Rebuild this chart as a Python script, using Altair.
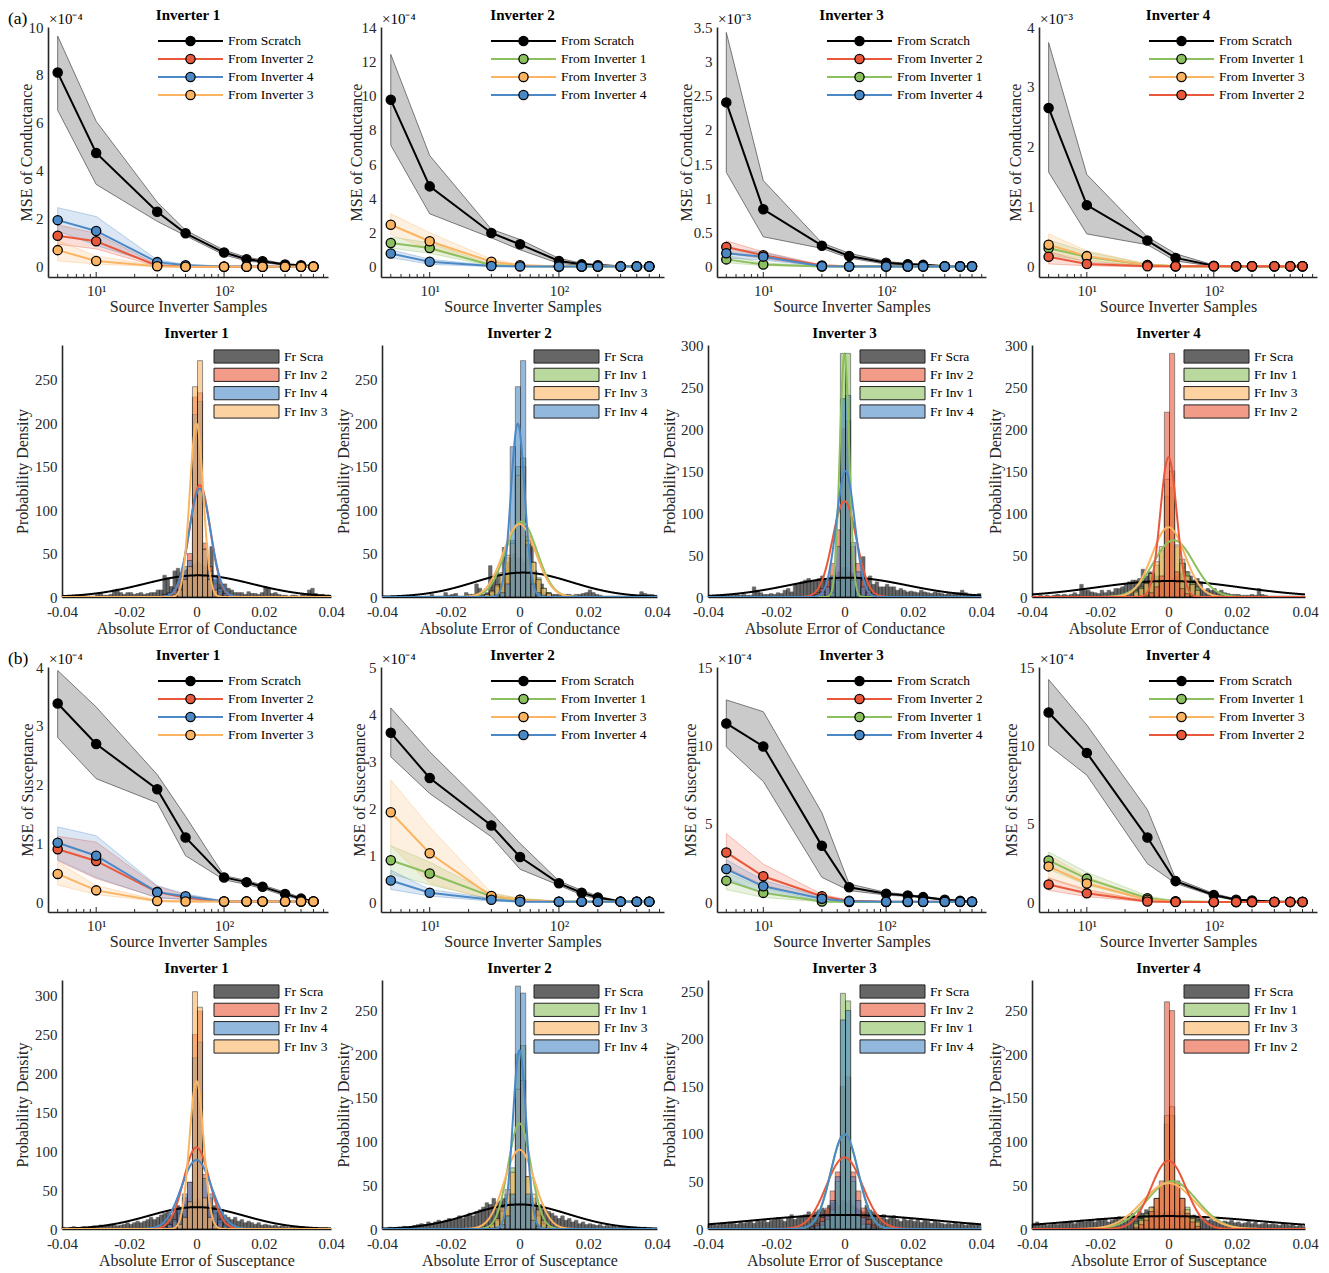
import altair as alt
import pandas as pd

FONT = "Liberation Serif"
AX = "#262626"

SAMPLES = [5, 10, 30, 50, 100, 150, 200, 300, 400, 500]
MAJOR_TICKS = [10, 100]
MINOR_TICKS = [5, 6, 7, 8, 9, 20, 30, 40, 50, 60, 70, 80, 90, 200, 300, 400, 500, 600]
HIST_TICKS = [-0.04, -0.02, 0, 0.02, 0.04]

NAMES = ["From Scratch", "From Inverter 1", "From Inverter 2", "From Inverter 3", "From Inverter 4"]
SHORT = {"From Scratch": "Fr Scra", "From Inverter 1": "Fr Inv 1", "From Inverter 2": "Fr Inv 2",
         "From Inverter 3": "Fr Inv 3", "From Inverter 4": "Fr Inv 4"}
COLORS = ["#000000", "#8CBF5E", "#E9583A", "#FBB462", "#4B89C6"]

ORDER_1 = ["From Scratch", "From Inverter 2", "From Inverter 4", "From Inverter 3"]
ORDER_2 = ["From Scratch", "From Inverter 1", "From Inverter 3", "From Inverter 4"]
ORDER_3 = ["From Scratch", "From Inverter 2", "From Inverter 1", "From Inverter 4"]
ORDER_4 = ["From Scratch", "From Inverter 1", "From Inverter 3", "From Inverter 2"]

# ---------------- (a) MSE of conductance: (mean, lower, upper) ----------------
COND_MSE_1 = {  # x1e-4
    "From Scratch": ([8.1, 4.75, 2.3, 1.4, 0.6, 0.32, 0.24, 0.1, 0.07, 0.03],
                     [6.53, 3.44, 1.9, 1.3, 0.5, 0.25, 0.18, 0.07, 0.05, 0.02],
                     [9.62, 6.07, 2.7, 1.53, 0.7, 0.4, 0.3, 0.13, 0.09, 0.04]),
    "From Inverter 2": ([1.3, 1.07, 0.05, 0.02, 0.01, 0.01, 0.01, 0.01, 0.01, 0.01],
                        [0.95, 0.75, 0.02, 0.01, 0, 0, 0, 0, 0, 0],
                        [1.75, 1.4, 0.1, 0.04, 0.02, 0.02, 0.02, 0.02, 0.02, 0.02]),
    "From Inverter 4": ([1.95, 1.5, 0.2, 0.07, 0.02, 0.02, 0.02, 0.01, 0.01, 0.01],
                        [1.5, 0.9, 0.1, 0.04, 0.01, 0.01, 0.01, 0, 0, 0],
                        [2.47, 2.1, 0.3, 0.1, 0.03, 0.03, 0.03, 0.02, 0.02, 0.02]),
    "From Inverter 3": ([0.7, 0.25, 0.03, 0.01, 0.01, 0.01, 0.01, 0.01, 0.01, 0.01],
                        [0.25, 0.12, 0.01, 0, 0, 0, 0, 0, 0, 0],
                        [1.1, 0.45, 0.06, 0.02, 0.02, 0.02, 0.02, 0.02, 0.02, 0.02]),
}
COND_MSE_2 = {  # x1e-4
    "From Scratch": ([9.75, 4.7, 1.98, 1.32, 0.35, 0.15, 0.1, 0.04, 0.04, 0.04],
                     [7.1, 3.1, 1.7, 1.0, 0.2, 0.1, 0.06, 0.02, 0.02, 0.02],
                     [12.4, 6.5, 2.2, 1.6, 0.5, 0.22, 0.14, 0.06, 0.06, 0.06]),
    "From Inverter 1": ([1.4, 1.1, 0.1, 0.05, 0.02, 0.02, 0.02, 0.02, 0.02, 0.02],
                        [1.1, 0.8, 0.05, 0.02, 0.01, 0.01, 0.01, 0.01, 0.01, 0.01],
                        [1.75, 1.4, 0.15, 0.08, 0.03, 0.03, 0.03, 0.03, 0.03, 0.03]),
    "From Inverter 3": ([2.46, 1.5, 0.3, 0.1, 0.03, 0.03, 0.03, 0.03, 0.03, 0.03],
                        [1.9, 1.0, 0.15, 0.05, 0.01, 0.01, 0.01, 0.01, 0.01, 0.01],
                        [3.1, 2.0, 0.45, 0.15, 0.05, 0.05, 0.05, 0.05, 0.05, 0.05]),
    "From Inverter 4": ([0.78, 0.3, 0.05, 0.03, 0.02, 0.02, 0.02, 0.02, 0.02, 0.02],
                        [0.55, 0.15, 0.02, 0.01, 0.01, 0.01, 0.01, 0.01, 0.01, 0.01],
                        [1.0, 0.45, 0.08, 0.05, 0.03, 0.03, 0.03, 0.03, 0.03, 0.03]),
}
COND_MSE_3 = {  # x1e-3
    "From Scratch": ([2.4, 0.84, 0.31, 0.16, 0.06, 0.04, 0.03, 0.01, 0.01, 0.01],
                     [1.38, 0.44, 0.27, 0.13, 0.04, 0.03, 0.02, 0.005, 0.005, 0.005],
                     [3.42, 1.26, 0.35, 0.2, 0.08, 0.05, 0.04, 0.015, 0.015, 0.015]),
    "From Inverter 2": ([0.29, 0.17, 0.02, 0.01, 0.01, 0.01, 0.01, 0.01, 0.01, 0.01],
                        [0.2, 0.12, 0.01, 0.005, 0.005, 0.005, 0.005, 0.005, 0.005, 0.005],
                        [0.38, 0.22, 0.03, 0.015, 0.015, 0.015, 0.015, 0.015, 0.015, 0.015]),
    "From Inverter 1": ([0.11, 0.035, 0.005, 0.005, 0.005, 0.005, 0.005, 0.005, 0.005, 0.005],
                        [0.06, 0.02, 0, 0, 0, 0, 0, 0, 0, 0],
                        [0.17, 0.06, 0.01, 0.01, 0.01, 0.01, 0.01, 0.01, 0.01, 0.01]),
    "From Inverter 4": ([0.2, 0.15, 0.01, 0.005, 0.005, 0.005, 0.005, 0.005, 0.005, 0.005],
                        [0.13, 0.1, 0.005, 0, 0, 0, 0, 0, 0, 0],
                        [0.28, 0.21, 0.02, 0.01, 0.01, 0.01, 0.01, 0.01, 0.01, 0.01]),
}
COND_MSE_4 = {  # x1e-3
    "From Scratch": ([2.65, 1.03, 0.44, 0.15, 0.02, 0.01, 0.01, 0.01, 0.01, 0.01],
                     [1.58, 0.55, 0.37, 0.1, 0.01, 0.005, 0.005, 0.005, 0.005, 0.005],
                     [3.74, 1.54, 0.5, 0.22, 0.03, 0.015, 0.015, 0.015, 0.015, 0.015]),
    "From Inverter 1": ([0.31, 0.17, 0.03, 0.01, 0.01, 0.01, 0.01, 0.01, 0.01, 0.01],
                        [0.2, 0.1, 0.01, 0, 0, 0, 0, 0, 0, 0],
                        [0.45, 0.25, 0.05, 0.02, 0.02, 0.02, 0.02, 0.02, 0.02, 0.02]),
    "From Inverter 3": ([0.37, 0.18, 0.03, 0.01, 0.01, 0.01, 0.01, 0.01, 0.01, 0.01],
                        [0.25, 0.12, 0.01, 0, 0, 0, 0, 0, 0, 0],
                        [0.55, 0.27, 0.05, 0.02, 0.02, 0.02, 0.02, 0.02, 0.02, 0.02]),
    "From Inverter 2": ([0.17, 0.05, 0.01, 0.01, 0.01, 0.01, 0.01, 0.01, 0.01, 0.01],
                        [0.05, 0.02, 0, 0, 0, 0, 0, 0, 0, 0],
                        [0.25, 0.08, 0.02, 0.02, 0.02, 0.02, 0.02, 0.02, 0.02, 0.02]),
}

# ---------------- (b) MSE of susceptance (x1e-4) ----------------
SUS_MSE_1 = {
    "From Scratch": ([3.38, 2.69, 1.92, 1.1, 0.42, 0.34, 0.26, 0.14, 0.06, 0.01],
                     [2.8, 2.1, 1.69, 0.79, 0.38, 0.3, 0.23, 0.11, 0.04, 0.0],
                     [3.94, 3.32, 2.17, 1.46, 0.45, 0.37, 0.29, 0.17, 0.08, 0.02]),
    "From Inverter 2": ([0.9, 0.7, 0.17, 0.08, 0.01, 0.01, 0.01, 0.01, 0.01, 0.01],
                        [0.7, 0.4, 0.08, 0.04, 0, 0, 0, 0, 0, 0],
                        [1.12, 1.02, 0.27, 0.12, 0.02, 0.02, 0.02, 0.02, 0.02, 0.02]),
    "From Inverter 4": ([1.01, 0.79, 0.17, 0.1, 0.01, 0.01, 0.01, 0.01, 0.01, 0.01],
                        [0.72, 0.42, 0.07, 0.05, 0, 0, 0, 0, 0, 0],
                        [1.28, 1.13, 0.28, 0.14, 0.02, 0.02, 0.02, 0.02, 0.02, 0.02]),
    "From Inverter 3": ([0.48, 0.2, 0.02, 0.01, 0.01, 0.01, 0.01, 0.01, 0.01, 0.01],
                        [0.29, 0.13, 0.01, 0, 0, 0, 0, 0, 0, 0],
                        [0.68, 0.28, 0.04, 0.02, 0.02, 0.02, 0.02, 0.02, 0.02, 0.02]),
}
SUS_MSE_2 = {
    "From Scratch": ([3.6, 2.64, 1.63, 0.96, 0.4, 0.2, 0.1, 0.015, 0.01, 0.01],
                     [3.09, 2.31, 1.39, 0.7, 0.36, 0.15, 0.07, 0.01, 0.005, 0.005],
                     [4.13, 3.2, 1.9, 1.25, 0.45, 0.25, 0.13, 0.02, 0.015, 0.015]),
    "From Inverter 1": ([0.89, 0.61, 0.12, 0.05, 0.01, 0.01, 0.01, 0.01, 0.01, 0.01],
                        [0.6, 0.37, 0.06, 0.02, 0, 0, 0, 0, 0, 0],
                        [1.2, 0.85, 0.18, 0.08, 0.02, 0.02, 0.02, 0.02, 0.02, 0.02]),
    "From Inverter 3": ([1.91, 1.04, 0.13, 0.05, 0.01, 0.01, 0.01, 0.01, 0.01, 0.01],
                        [1.2, 0.4, 0.05, 0.02, 0, 0, 0, 0, 0, 0],
                        [2.6, 1.6, 0.2, 0.08, 0.02, 0.02, 0.02, 0.02, 0.02, 0.02]),
    "From Inverter 4": ([0.46, 0.2, 0.05, 0.01, 0.01, 0.01, 0.01, 0.01, 0.01, 0.01],
                        [0.27, 0.13, 0.02, 0, 0, 0, 0, 0, 0, 0],
                        [0.68, 0.27, 0.08, 0.02, 0.02, 0.02, 0.02, 0.02, 0.02, 0.02]),
}
SUS_MSE_3 = {
    "From Scratch": ([11.4, 9.93, 3.59, 0.95, 0.53, 0.42, 0.32, 0.15, 0.08, 0.04],
                     [9.9, 7.7, 1.58, 0.74, 0.45, 0.36, 0.27, 0.11, 0.05, 0.02],
                     [12.9, 12.15, 5.7, 1.16, 0.62, 0.48, 0.37, 0.19, 0.11, 0.06]),
    "From Inverter 2": ([3.17, 1.65, 0.38, 0.08, 0.02, 0.02, 0.02, 0.02, 0.02, 0.02],
                        [2.2, 1.1, 0.2, 0.04, 0.01, 0.01, 0.01, 0.01, 0.01, 0.01],
                        [4.38, 2.43, 0.5, 0.12, 0.03, 0.03, 0.03, 0.03, 0.03, 0.03]),
    "From Inverter 1": ([1.37, 0.59, 0.04, 0.01, 0.01, 0.01, 0.01, 0.01, 0.01, 0.01],
                        [0.8, 0.3, 0.01, 0, 0, 0, 0, 0, 0, 0],
                        [1.9, 0.9, 0.08, 0.02, 0.02, 0.02, 0.02, 0.02, 0.02, 0.02]),
    "From Inverter 4": ([2.11, 1.01, 0.21, 0.06, 0.02, 0.02, 0.02, 0.02, 0.02, 0.02],
                        [1.5, 0.6, 0.1, 0.03, 0.01, 0.01, 0.01, 0.01, 0.01, 0.01],
                        [2.7, 1.4, 0.32, 0.1, 0.03, 0.03, 0.03, 0.03, 0.03, 0.03]),
}
SUS_MSE_4 = {
    "From Scratch": ([12.1, 9.52, 4.12, 1.34, 0.46, 0.15, 0.1, 0.03, 0.03, 0.03],
                     [10.0, 8.1, 2.45, 1.2, 0.38, 0.1, 0.07, 0.02, 0.02, 0.02],
                     [14.2, 11.3, 5.9, 1.5, 0.55, 0.2, 0.13, 0.04, 0.04, 0.04]),
    "From Inverter 1": ([2.66, 1.5, 0.25, 0.05, 0.01, 0.01, 0.01, 0.01, 0.01, 0.01],
                        [2.1, 1.1, 0.1, 0.02, 0, 0, 0, 0, 0, 0],
                        [3.2, 1.9, 0.4, 0.08, 0.02, 0.02, 0.02, 0.02, 0.02, 0.02]),
    "From Inverter 3": ([2.28, 1.19, 0.15, 0.04, 0.01, 0.01, 0.01, 0.01, 0.01, 0.01],
                        [1.5, 0.7, 0.06, 0.01, 0, 0, 0, 0, 0, 0],
                        [3.0, 1.6, 0.25, 0.07, 0.02, 0.02, 0.02, 0.02, 0.02, 0.02]),
    "From Inverter 2": ([1.13, 0.56, 0.04, 0.01, 0.01, 0.01, 0.01, 0.01, 0.01, 0.01],
                        [0.75, 0.35, 0.01, 0, 0, 0, 0, 0, 0, 0],
                        [1.55, 0.8, 0.07, 0.02, 0.02, 0.02, 0.02, 0.02, 0.02, 0.02]),
}

# ---------------- histograms of absolute error ----------------
SCRATCH_BIN = 0.001      # scratch bins start at -0.04
SCRATCH_START = -0.04
TRANSFER_BIN = 0.0015    # transfer bins start at TRANSFER_START
TRANSFER_START = -0.0102

COND_HIST_1 = {
    "From Scratch": [1, 1, 1, 0, 1, 1, 2, 1, 1, 1, 3, 5, 2, 2, 3, 8, 9, 5, 3, 5,
                     5, 3, 4, 5, 3, 4, 5, 5, 8, 8, 25, 22, 12, 30, 33, 28, 30, 32, 35, 38,
                     40, 38, 35, 30, 58, 20, 25, 15, 15, 10, 8, 5, 5, 5, 3, 6, 4, 4, 3, 5,
                     12, 10, 4, 5, 3, 2, 2, 1, 2, 2, 1, 3, 2, 8, 10, 4, 2, 3, 1, 2],
    "From Inverter 2": [2, 4, 8, 15, 30, 50, 230, 235, 62, 35, 15, 6, 3],
    "From Inverter 4": [3, 5, 10, 20, 35, 42, 210, 225, 55, 30, 25, 10, 4],
    "From Inverter 3": [0, 1, 3, 8, 20, 35, 242, 272, 55, 20, 8, 2, 1],
}
COND_FIT_1 = {"From Scratch": (0.0005, 0.016), "From Inverter 2": (0.001, 0.0031),
              "From Inverter 4": (0.001, 0.0032), "From Inverter 3": (0.0, 0.002)}

COND_HIST_2 = {
    "From Scratch": [0, 0, 0, 0, 0, 0, 0, 0, 0, 0, 0, 0, 1, 1, 3, 1, 1, 1, 5, 2,
                     3, 4, 1, 1, 5, 3, 3, 15, 10, 3, 5, 36, 20, 28, 15, 57, 40, 45, 50, 45,
                     45, 40, 45, 58, 30, 20, 15, 5, 5, 3, 3, 3, 2, 3, 3, 2, 3, 3, 4, 5,
                     8, 5, 3, 2, 1, 1, 1, 1, 1, 1, 1, 1, 1, 1, 1, 6, 4, 3, 3, 2],
    "From Inverter 1": [3, 6, 12, 25, 45, 65, 150, 160, 70, 40, 22, 10, 5],
    "From Inverter 3": [3, 7, 14, 28, 48, 62, 140, 150, 65, 40, 20, 10, 4],
    "From Inverter 4": [0, 1, 2, 5, 15, 173, 242, 272, 60, 15, 5, 2, 0],
}
COND_FIT_2 = {"From Scratch": (0.001, 0.0142), "From Inverter 1": (0.0005, 0.0046),
              "From Inverter 3": (0.0, 0.00475), "From Inverter 4": (-0.0005, 0.002)}

COND_HIST_3 = {
    "From Scratch": [1, 1, 2, 1, 2, 3, 2, 2, 3, 2, 3, 2, 2, 12, 8, 5, 3, 3, 4, 3,
                     5, 4, 8, 10, 6, 15, 15, 18, 20, 22, 18, 20, 22, 25, 20, 20, 22, 25, 30, 35,
                     35, 30, 28, 25, 22, 48, 20, 25, 15, 18, 12, 12, 15, 12, 12, 8, 10, 8, 6, 7,
                     6, 5, 8, 6, 5, 4, 6, 5, 4, 3, 4, 3, 5, 5, 8, 5, 3, 2, 3, 4],
    "From Inverter 2": [2, 5, 10, 20, 40, 80, 200, 210, 60, 40, 20, 8, 3],
    "From Inverter 1": [0, 0, 1, 2, 5, 20, 290, 290, 20, 5, 2, 1, 0],
    "From Inverter 4": [1, 3, 6, 12, 25, 60, 236, 240, 65, 30, 12, 5, 2],
}
COND_FIT_3 = {"From Scratch": (0.001, 0.0173), "From Inverter 2": (0.0, 0.0035),
              "From Inverter 1": (0.0, 0.00138), "From Inverter 4": (0.0003, 0.00266)}

COND_HIST_4 = {
    "From Scratch": [1, 1, 2, 1, 2, 1, 2, 3, 2, 3, 2, 3, 5, 3, 15, 8, 8, 6, 5, 4,
                     8, 5, 8, 6, 10, 10, 12, 15, 18, 20, 20, 22, 33, 25, 30, 28, 25, 22, 20, 18,
                     18, 22, 25, 28, 40, 30, 25, 20, 22, 18, 8, 10, 8, 10, 6, 8, 5, 4, 3, 3,
                     3, 2, 2, 2, 3, 2, 10, 3, 2, 1, 1, 1, 1, 1, 1, 1, 1, 1, 1, 1],
    "From Inverter 1": [8, 12, 18, 28, 38, 55, 120, 130, 60, 45, 30, 20, 12],
    "From Inverter 3": [6, 10, 16, 28, 42, 60, 140, 150, 62, 40, 25, 15, 8],
    "From Inverter 2": [0, 1, 2, 5, 12, 25, 220, 290, 30, 10, 4, 1, 0],
}
COND_FIT_4 = {"From Scratch": (0.0, 0.021), "From Inverter 1": (0.0015, 0.0059),
              "From Inverter 3": (0.0, 0.0048), "From Inverter 2": (0.0, 0.0024)}

SUS_HIST_1 = {
    "From Scratch": [2, 1, 2, 3, 1, 2, 3, 2, 3, 4, 3, 5, 4, 5, 6, 5, 4, 5, 6, 8,
                     6, 8, 10, 8, 10, 12, 15, 12, 15, 18, 20, 22, 18, 25, 30, 28, 32, 35, 30, 35,
                     38, 35, 30, 28, 25, 30, 22, 25, 18, 15, 12, 15, 10, 12, 8, 10, 8, 6, 8, 5,
                     6, 5, 4, 5, 3, 4, 3, 2, 3, 2, 2, 3, 2, 2, 1, 2, 1, 1, 2, 1],
    "From Inverter 2": [2, 5, 10, 20, 40, 60, 250, 280, 70, 40, 20, 8, 3],
    "From Inverter 4": [3, 6, 12, 25, 45, 60, 220, 240, 65, 45, 25, 12, 5],
    "From Inverter 3": [0, 1, 2, 6, 15, 35, 305, 285, 40, 15, 5, 2, 0],
}
SUS_FIT_1 = {"From Scratch": (0.0, 0.0142), "From Inverter 2": (0.0, 0.0038),
             "From Inverter 4": (0.0, 0.0045), "From Inverter 3": (0.0, 0.0021)}

SUS_HIST_2 = {
    "From Scratch": [1, 1, 2, 1, 2, 2, 3, 2, 3, 4, 5, 6, 5, 8, 6, 8, 10, 8, 10, 12,
                     10, 12, 15, 12, 15, 18, 15, 20, 22, 25, 30, 28, 35, 30, 32, 35, 30, 32, 35, 30,
                     32, 30, 35, 28, 30, 25, 28, 22, 20, 18, 15, 12, 15, 10, 12, 8, 10, 6, 8, 5,
                     6, 5, 4, 5, 3, 4, 3, 4, 2, 3, 2, 2, 1, 2, 1, 1, 2, 1, 1, 1],
    "From Inverter 1": [2, 5, 10, 20, 40, 70, 200, 210, 60, 35, 15, 6, 2],
    "From Inverter 3": [3, 6, 12, 25, 45, 65, 160, 170, 60, 40, 22, 10, 4],
    "From Inverter 4": [0, 1, 2, 5, 15, 40, 278, 270, 40, 10, 3, 1, 0],
}
SUS_FIT_2 = {"From Scratch": (0.0, 0.0142), "From Inverter 1": (0.0, 0.0033),
             "From Inverter 3": (0.0, 0.0044), "From Inverter 4": (0.0, 0.00195)}

SUS_HIST_3 = {
    "From Scratch": [5, 6, 4, 5, 6, 5, 7, 6, 5, 8, 6, 7, 8, 6, 9, 8, 10, 7, 9, 10,
                     12, 10, 8, 12, 15, 10, 12, 14, 15, 18, 15, 18, 20, 22, 20, 25, 28, 30, 25, 30,
                     28, 30, 25, 22, 20, 18, 25, 20, 18, 15, 12, 15, 10, 12, 14, 10, 8, 12, 9, 10,
                     8, 10, 7, 9, 8, 6, 8, 7, 6, 5, 6, 5, 7, 5, 6, 4, 5, 6, 4, 5],
    "From Inverter 2": [3, 6, 12, 22, 40, 60, 150, 160, 60, 40, 22, 10, 4],
    "From Inverter 1": [1, 2, 4, 10, 20, 50, 248, 240, 50, 15, 5, 2, 1],
    "From Inverter 4": [2, 4, 8, 15, 30, 55, 220, 230, 55, 30, 12, 5, 2],
}
SUS_FIT_3 = {"From Scratch": (0.0, 0.027), "From Inverter 2": (0.0, 0.0053),
             "From Inverter 1": (0.0, 0.004), "From Inverter 4": (0.0, 0.004)}

SUS_HIST_4 = {
    "From Scratch": [6, 8, 5, 6, 4, 5, 7, 5, 6, 8, 7, 9, 6, 8, 10, 8, 9, 10, 8, 12,
                     10, 12, 8, 10, 12, 14, 12, 10, 15, 18, 15, 20, 18, 22, 20, 25, 22, 20, 18, 20,
                     22, 20, 18, 20, 22, 18, 15, 16, 14, 12, 12, 10, 11, 9, 10, 8, 9, 8, 10, 7,
                     8, 6, 7, 9, 6, 8, 5, 6, 7, 5, 6, 5, 4, 6, 5, 4, 5, 3, 4, 3],
    "From Inverter 1": [8, 12, 18, 25, 35, 50, 120, 130, 50, 35, 25, 15, 10],
    "From Inverter 3": [6, 10, 15, 25, 35, 50, 130, 140, 50, 35, 22, 12, 8],
    "From Inverter 2": [2, 5, 10, 20, 35, 55, 260, 250, 55, 35, 18, 8, 3],
}
SUS_FIT_4 = {"From Scratch": (0.0, 0.027), "From Inverter 1": (0.001, 0.0073),
             "From Inverter 3": (0.0, 0.0076), "From Inverter 2": (0.0, 0.0051)}

COLOR_SCALE = alt.Scale(domain=NAMES, range=COLORS)
ONE = pd.DataFrame({"a": [0]})
HIST_SHIFT = 14  # histogram plot areas start this far right of their panel origin


def text_layer(label, x, y, size, weight="normal", align="left"):
    return alt.Chart(ONE).mark_text(align=align, baseline="middle", font=FONT, fontSize=size,
                                    fontWeight=weight, color="black").encode(
        x=alt.value(x), y=alt.value(y), text=alt.value(label))


def line_panel(title, data, order, ymax, yticks, exp_label, ytitle, width, height, ytitle_x, tag=None):
    rows = []
    for k, name in enumerate(order):
        mean, lo, hi = data[name]
        for x, m, l, h in zip(SAMPLES, mean, lo, hi):
            rows.append({"series": name, "x": x, "mean": m, "lo": l, "hi": h, "k": k})
    df = pd.DataFrame(rows)
    xscale = alt.Scale(type="log", domain=[4.2, 650], nice=False)
    yscale = alt.Scale(domain=[-0.042 * ymax, ymax], nice=False, zero=False)
    xaxis = alt.Axis(values=MAJOR_TICKS, labelExpr="datum.value == 10 ? '10¹' : '10²'",
                     title="Source Inverter Samples", ticks=False, grid=False, labelPadding=6,
                     titleY=29, titleX=width / 2, titleBaseline="middle")
    yaxis = alt.Axis(values=yticks, format="~r", title=ytitle, ticks=False, grid=False,
                     labelPadding=5, titleX=ytitle_x, titleY=height / 2, titleBaseline="middle",
                     titleAlign="center", titleAngle=270)
    X = alt.X("x:Q", scale=xscale, axis=xaxis)
    base = alt.Chart(df)
    band_s = base.transform_filter(alt.datum.series == "From Scratch").mark_area(
        fill="#8a8a8a", fillOpacity=0.45, stroke="#5a5a5a", strokeWidth=0.8).encode(
        x=X, y=alt.Y("lo:Q", scale=yscale, axis=yaxis, stack=None), y2="hi:Q")
    band_o = base.transform_filter(alt.datum.series != "From Scratch").mark_area(
        fillOpacity=0.2, strokeWidth=0.8, strokeOpacity=0.45).encode(
        x=X, y=alt.Y("lo:Q", scale=yscale, axis=yaxis, stack=None), y2="hi:Q",
        fill=alt.Fill("series:N", scale=COLOR_SCALE, legend=None),
        stroke=alt.Stroke("series:N", scale=COLOR_SCALE, legend=None),
        detail="series:N")
    lines = base.mark_line(strokeWidth=2).encode(
        x=X, y=alt.Y("mean:Q", scale=yscale, axis=yaxis),
        color=alt.Color("series:N", scale=COLOR_SCALE, legend=None))
    dots = base.mark_circle(size=85, opacity=1, stroke="black", strokeWidth=1.3).encode(
        x=X, y=alt.Y("mean:Q", scale=yscale, axis=yaxis),
        fill=alt.Fill("series:N", scale=COLOR_SCALE, legend=None), order=alt.Order("k:Q"))
    tick_minor = alt.Chart(pd.DataFrame({"x": MINOR_TICKS})).mark_rule(color=AX, strokeWidth=1).encode(
        x=X, y=alt.value(height), y2=alt.value(height - 3))
    tick_major = alt.Chart(pd.DataFrame({"x": MAJOR_TICKS})).mark_rule(color=AX, strokeWidth=1).encode(
        x=X, y=alt.value(height), y2=alt.value(height - 5))
    main = alt.layer(band_s, band_o, lines, dots, tick_minor, tick_major)

    leg = pd.DataFrame({"series": order, "k": list(range(len(order)))})
    LY = alt.Y("k:Q", scale=alt.Scale(domain=[0, 3], range=[14, 68]), axis=None)
    leg_line = alt.Chart(leg).mark_rule(strokeWidth=2).encode(
        x=alt.value(110), x2=alt.value(175), y=LY,
        color=alt.Color("series:N", scale=COLOR_SCALE, legend=None))
    leg_dot = alt.Chart(leg).mark_circle(size=85, opacity=1, stroke="black", strokeWidth=1.3).encode(
        x=alt.value(142.5), y=LY, fill=alt.Fill("series:N", scale=COLOR_SCALE, legend=None))
    leg_txt = alt.Chart(leg).mark_text(align="left", baseline="middle", font=FONT, fontSize=13.5,
                                       color="black").encode(x=alt.value(180), y=LY, text="series:N")
    legend = alt.layer(leg_line, leg_dot, leg_txt)

    layers = [main, legend, text_layer(exp_label, 1, -8, 15),
              text_layer(title, width / 2, -12, 15, "bold", "center")]
    if tag:
        layers.append(text_layer(tag, -40, -8, 17.5))
    return alt.layer(*layers).resolve_scale(y="independent").properties(width=width, height=height)


def hist_panel(title, hist, fits, order, ymax, xtitle, width, height, ytitle_x):
    s = HIST_SHIFT
    rows = []
    for i, h in enumerate(hist["From Scratch"]):
        x0 = SCRATCH_START + SCRATCH_BIN * i
        rows.append({"series": "From Scratch", "x0": x0, "x1": x0 + SCRATCH_BIN, "h": h, "k": 0})
    for k, name in enumerate(order[1:], start=1):
        for i, h in enumerate(hist[name]):
            x0 = TRANSFER_START + TRANSFER_BIN * i
            rows.append({"series": name, "x0": x0, "x1": x0 + TRANSFER_BIN, "h": h, "k": k})
    df = pd.DataFrame(rows)
    xscale = alt.Scale(domain=[-0.04, 0.04], nice=False, zero=False, range=[s, s + width])
    yscale = alt.Scale(domain=[0, ymax], nice=False)
    xaxis = alt.Axis(values=HIST_TICKS, labelExpr="replace(format(datum.value, '.2~f'), '−', '-')",
                     title=xtitle, ticks=False, grid=False, labelPadding=7, labelFlush=False,
                     titleY=31, titleX=s + width / 2, titleBaseline="middle")
    yaxis = alt.Axis(values=list(range(0, int(ymax) + 1, 50)), title="Probability Density", ticks=False,
                     grid=False, labelPadding=5, titleX=ytitle_x, titleY=height / 2, titleBaseline="middle",
                     titleAlign="center", titleAngle=270, offset=-s)
    bars = alt.Chart(df).mark_rect(opacity=0.6, stroke="black", strokeWidth=0.7).encode(
        x=alt.X("x0:Q", scale=xscale, axis=xaxis), x2="x1:Q",
        y=alt.Y("h:Q", scale=yscale, axis=yaxis), y2=alt.datum(0),
        fill=alt.Fill("series:N", scale=COLOR_SCALE, legend=None))
    cdf = pd.DataFrame({"series": order, "mu": [fits[n][0] for n in order],
                        "sd": [fits[n][1] for n in order], "k": list(range(len(order)))})
    curves = alt.Chart(cdf).transform_calculate(
        xs="sequence(-0.04, 0.04001, 0.0001)").transform_flatten(["xs"]).transform_calculate(
        pdf="densityNormal(datum.xs, datum.mu, datum.sd)").mark_line(strokeWidth=2, clip=True).encode(
        x=alt.X("xs:Q", scale=xscale, axis=xaxis), y=alt.Y("pdf:Q", scale=yscale, axis=yaxis),
        color=alt.Color("series:N", scale=COLOR_SCALE, legend=None), detail="series:N")
    main = alt.layer(bars, curves)

    leg = pd.DataFrame({"series": order, "k": list(range(len(order))),
                        "label": [SHORT[n] for n in order]})
    lsc = alt.Scale(domain=[0, 3], range=[11.5, 66.5])
    leg_box = alt.Chart(leg).transform_calculate(ya="datum.k - 0.36", yb="datum.k + 0.36").mark_rect(
        fillOpacity=0.6, stroke="#222222", strokeWidth=1).encode(
        x=alt.value(s + 152), x2=alt.value(s + 217), y=alt.Y("ya:Q", scale=lsc, axis=None), y2="yb:Q",
        fill=alt.Fill("series:N", scale=COLOR_SCALE, legend=None))
    leg_txt = alt.Chart(leg).mark_text(align="left", baseline="middle", font=FONT, fontSize=13.5,
                                       color="black").encode(
        x=alt.value(s + 222), y=alt.Y("k:Q", scale=lsc, axis=None), text="label:N")
    legend = alt.layer(leg_box, leg_txt)
    return alt.layer(main, legend, text_layer(title, s + width / 2, -12, 15, "bold", "center")).resolve_scale(
        y="independent").properties(width=width + s, height=height)


LINE_W = [280, 283, 269, 278]
HIST_W = [269, 275, 273, 273]
ROW_H = [250, 252, 245, 249]

row1 = alt.hconcat(
    line_panel("Inverter 1", COND_MSE_1, ORDER_1, 10, [0, 2, 4, 6, 8, 10], "×10⁻⁴", "MSE of Conductance", LINE_W[0], ROW_H[0], -22, "(a)"),
    line_panel("Inverter 2", COND_MSE_2, ORDER_2, 14, [0, 2, 4, 6, 8, 10, 12, 14], "×10⁻⁴", "MSE of Conductance", LINE_W[1], ROW_H[0], -25),
    line_panel("Inverter 3", COND_MSE_3, ORDER_3, 3.5, [0, 0.5, 1, 1.5, 2, 2.5, 3, 3.5], "×10⁻³", "MSE of Conductance", LINE_W[2], ROW_H[0], -31),
    line_panel("Inverter 4", COND_MSE_4, ORDER_4, 4, [0, 1, 2, 3, 4], "×10⁻³", "MSE of Conductance", LINE_W[3], ROW_H[0], -24),
    spacing=53, bounds="flush")

row2 = alt.hconcat(
    hist_panel("Inverter 1", COND_HIST_1, COND_FIT_1, ORDER_1, 290, "Absolute Error of Conductance", HIST_W[0], ROW_H[1], -40),
    hist_panel("Inverter 2", COND_HIST_2, COND_FIT_2, ORDER_2, 290, "Absolute Error of Conductance", HIST_W[1], ROW_H[1], -39),
    hist_panel("Inverter 3", COND_HIST_3, COND_FIT_3, ORDER_3, 300, "Absolute Error of Conductance", HIST_W[2], ROW_H[1], -39),
    hist_panel("Inverter 4", COND_HIST_4, COND_FIT_4, ORDER_4, 300, "Absolute Error of Conductance", HIST_W[3], ROW_H[1], -37),
    spacing=51 - HIST_SHIFT, bounds="flush")

row3 = alt.hconcat(
    line_panel("Inverter 1", SUS_MSE_1, ORDER_1, 4, [0, 1, 2, 3, 4], "×10⁻⁴", "MSE of Susceptance", LINE_W[0], ROW_H[2], -21, "(b)"),
    line_panel("Inverter 2", SUS_MSE_2, ORDER_2, 5, [0, 1, 2, 3, 4, 5], "×10⁻⁴", "MSE of Susceptance", LINE_W[1], ROW_H[2], -22),
    line_panel("Inverter 3", SUS_MSE_3, ORDER_3, 15, [0, 5, 10, 15], "×10⁻⁴", "MSE of Susceptance", LINE_W[2], ROW_H[2], -27),
    line_panel("Inverter 4", SUS_MSE_4, ORDER_4, 15, [0, 5, 10, 15], "×10⁻⁴", "MSE of Susceptance", LINE_W[3], ROW_H[2], -28),
    spacing=53, bounds="flush")

row4 = alt.hconcat(
    hist_panel("Inverter 1", SUS_HIST_1, SUS_FIT_1, ORDER_1, 320, "Absolute Error of Susceptance", HIST_W[0], ROW_H[3], -40),
    hist_panel("Inverter 2", SUS_HIST_2, SUS_FIT_2, ORDER_2, 285, "Absolute Error of Susceptance", HIST_W[1], ROW_H[3], -39),
    hist_panel("Inverter 3", SUS_HIST_3, SUS_FIT_3, ORDER_3, 262, "Absolute Error of Susceptance", HIST_W[2], ROW_H[3], -39),
    hist_panel("Inverter 4", SUS_HIST_4, SUS_FIT_4, ORDER_4, 285, "Absolute Error of Susceptance", HIST_W[3], ROW_H[3], -37),
    spacing=51 - HIST_SHIFT, bounds="flush")

chart = alt.vconcat(row1, row2, row3, row4, spacing=12, padding=0, background="white").configure_view(
    stroke=None).configure_axis(
    labelFont=FONT, labelFontSize=15, labelColor=AX, titleFont=FONT, titleFontSize=16,
    titleFontWeight="normal", titleColor=AX, domainColor=AX, domainWidth=1.6)

chart.save("out.html", embed_options={"renderer": "svg", "actions": False})
